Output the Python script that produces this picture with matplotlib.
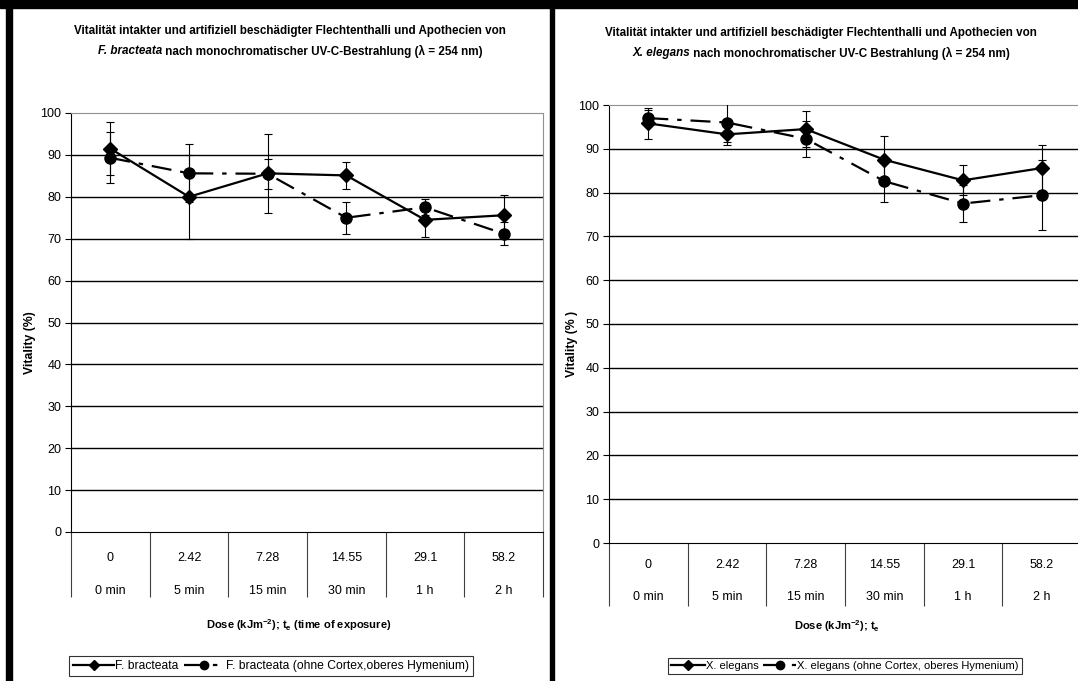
import matplotlib
matplotlib.use("Agg")
import matplotlib.pyplot as plt
from matplotlib.patches import Rectangle
from matplotlib.lines import Line2D
from matplotlib.transforms import blended_transform_factory

W, H = 1078, 681
plt.rcParams['font.family'] = ['Liberation Sans', 'DejaVu Sans']
plt.rcParams['mathtext.fontset'] = 'custom'
plt.rcParams['mathtext.rm'] = 'Liberation Sans'
plt.rcParams['mathtext.bf'] = 'Liberation Sans:bold'
plt.rcParams['mathtext.it'] = 'Liberation Sans:italic'

# ---------------- data ----------------
doses = ["0", "2.42", "7.28", "14.55", "29.1", "58.2"]
times = ["0 min", "5 min", "15 min", "30 min", "1 h", "2 h"]

fb_intact = [91.5, 80.0, 85.6, 85.1, 74.5, 75.6]
fb_intact_err = [6.4, 10.0, 9.4, 3.3, 4.1, 4.9]
fb_damaged = [89.3, 85.6, 85.5, 75.0, 77.5, 71.2]
fb_damaged_err = [6.1, 6.9, 3.6, 3.8, 1.9, 2.8]

xe_intact = [95.8, 93.3, 94.5, 87.5, 82.8, 85.6]
xe_intact_err = [3.5, 2.5, 4.2, 5.5, 3.4, 5.3]
xe_damaged = [97.0, 96.0, 92.3, 82.6, 77.5, 79.4]
xe_damaged_err = [1.8, 4.5, 4.1, 4.7, 4.2, 8.0]

yticks = [0, 10, 20, 30, 40, 50, 60, 70, 80, 90, 100]

fig = plt.figure(figsize=(W / 100, H / 100), dpi=100)


def fx(px):
    return px / W


def fy(py):
    return 1 - py / H


DASH = (0, (9, 4, 2, 4))
TFS = 8.4   # title font size
KFS = 9     # tick font size


def panel(x0, x1, y_top, y_bot, s1, e1, s2, e2, m2, ylabel, xlabel, leg, legbox, lfs, hlen,
          title_it, title_rest, title_cx, title_y, ylab_x, xlab_y, row1_off, row2_off, tick_len):
    ax = fig.add_axes([fx(x0), fy(y_bot), fx(x1 - x0), (y_bot - y_top) / H])
    ax.set_xlim(-0.5, 5.5)
    ax.set_ylim(0, 100)
    idx = list(range(len(doses)))
    for y in yticks[1:-1]:
        ax.axhline(y, color='black', lw=1.0, zorder=1)
    ax.errorbar(idx, s1, yerr=e1, color='black', lw=1.6, marker='D', ms=7,
                capsize=3, elinewidth=0.8, capthick=0.8, zorder=3)
    ax.errorbar(idx, s2, yerr=e2, color='black', lw=1.6, ls=DASH, marker=m2, ms=8,
                capsize=3, elinewidth=0.8, capthick=0.8, zorder=3)
    ax.spines['top'].set_color('#909090')
    ax.spines['right'].set_color('#909090')
    ax.spines['left'].set_color('black')
    ax.spines['bottom'].set_color('black')
    ax.set_yticks(yticks)
    ax.set_yticklabels([str(v) for v in yticks], fontsize=KFS)
    ax.tick_params(axis='y', length=4, width=0.8, pad=3)
    ax.set_xticks([i - 0.5 for i in range(len(doses) + 1)])
    ax.set_xticklabels([])
    ax.tick_params(axis='x', length=tick_len, width=0.8, color='#404040', direction='out')
    tr = blended_transform_factory(ax.transData, ax.transAxes)
    hgt = y_bot - y_top
    for i, (d, t) in enumerate(zip(doses, times)):
        ax.text(i, -row1_off / hgt, d, transform=tr, ha='center', va='center', fontsize=KFS)
        ax.text(i, -row2_off / hgt, t, transform=tr, ha='center', va='center', fontsize=KFS)
    fig.text(fx(ylab_x), fy((y_top + y_bot) / 2 + 20), ylabel, rotation=90, ha='center',
             va='center', fontsize=8.8, fontweight='bold')
    fig.text(fx((x0 + x1) / 2 - 8), fy(xlab_y), xlabel, ha='center', va='center',
             fontsize=8, fontweight='bold')
    # legend
    h1 = Line2D([], [], color='black', lw=1.6, marker='D', ms=5)
    h2 = Line2D([], [], color='black', lw=1.6, ls=DASH, marker=m2, ms=6)
    lg = fig.legend([h1, h2], leg, loc='center',
                    bbox_to_anchor=(fx((legbox[0] + legbox[1]) / 2), fy(legbox[2])),
                    ncol=2, fontsize=lfs, frameon=True, fancybox=False,
                    handlelength=hlen, handletextpad=0.1, columnspacing=0.4,
                    borderpad=0.3, borderaxespad=0)
    lg.get_frame().set_edgecolor('black')
    lg.get_frame().set_linewidth(0.8)
    # title
    cx = title_cx
    fig.text(fx(cx), fy(title_y[0]),
             "Vitalität intakter und artifiziell beschädigter Flechtenthalli und Apothecien von",
             ha='center', va='center', fontsize=TFS, fontweight='bold')
    r = fig.canvas.get_renderer()
    ta = fig.text(0, fy(title_y[1]), title_it, ha='left', va='center', fontsize=TFS,
                  fontweight='bold', style='italic')
    tb = fig.text(0, fy(title_y[1]), title_rest, ha='left', va='center', fontsize=TFS,
                  fontweight='bold')
    wa = ta.get_window_extent(r).width
    wb = tb.get_window_extent(r).width
    start = cx - (wa + wb) / 2
    ta.set_x(fx(start))
    tb.set_x(fx(start + wa))
    return ax


panel(71, 543, 113, 532, fb_intact, fb_intact_err, fb_damaged, fb_damaged_err, 'o',
      "Vitality (%)", r"Dose (kJm$^{\mathbf{-2}}$); t$_{\mathbf{e}}$ (time of exposure)",
      ["F. bracteata", "F. bracteata (ohne Cortex,oberes Hymenium)"], (84, 458, 666), 8.7, 3.4,
      "F. bracteata", " nach monochromatischer UV-C-Bestrahlung (λ = 254 nm)", 290, (31, 51),
      30, 625, 26, 59, 47)

panel(609, 1081, 105, 543, xe_intact, xe_intact_err, xe_damaged, xe_damaged_err, 'o',
      "Vitality (% )", r"Dose (kJm$^{\mathbf{-2}}$); t$_{\mathbf{e}}$",
      ["X. elegans", "X. elegans (ohne Cortex, oberes Hymenium)"], (670, 1020, 666), 8.0, 3.0,
      "X. elegans", " nach monochromatischer UV-C Bestrahlung (λ = 254 nm)", 821, (33, 53),
      572, 626, 22, 54, 45)

# black frame bands
for (x, y, w, h) in [(6, 0, 6, H), (0, 0, W, 8), (550, 0, 4, H)]:
    fig.patches.append(Rectangle((fx(x), fy(y + h)), w / W, h / H, transform=fig.transFigure,
                                 color='black', zorder=10))

fig.savefig("out.png", dpi=100)
